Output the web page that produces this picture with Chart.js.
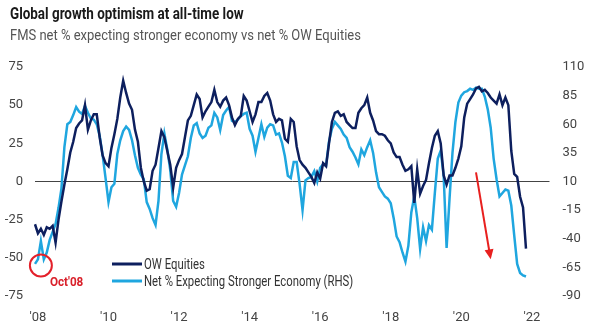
<!DOCTYPE html>
<html>
<head>
<meta charset="utf-8">
<script src="https://cdn.jsdelivr.net/npm/chart.js@4.4.1/dist/chart.umd.min.js"></script>
<style>
  html, body { margin: 0; padding: 0; background: #fff; }
  #wrap { position: relative; width: 590px; height: 332px; }
  #title { position: absolute; left: 10px; top: 4px; font: bold 16px Roboto, sans-serif; color: #1a1a1a; white-space: nowrap; transform: scaleX(0.84); transform-origin: 0 0; }
  #subtitle { position: absolute; left: 10px; top: 26px; font: 15px Roboto, sans-serif; color: #555; white-space: nowrap; transform: scaleX(0.865); transform-origin: 0 0; }
  canvas { position: absolute; left: 0; top: 0; }
</style>
</head>
<body>
<div id="wrap">
  <canvas id="myChart" width="590" height="332"></canvas>
  <div id="title">Global growth optimism at all-time low</div>
  <div id="subtitle">FMS net % expecting stronger economy vs net % OW Equities</div>
</div>
<script>
// monthly categories, Dec 2007 onwards (extra months at the end leave room on the right)
var startYear = 2007, startMonth = 12, monthCount = 176;
var months = [];
for (var k = 0; k < monthCount; k++) {
  var m = (startMonth - 1 + k) % 12 + 1;
  var yr = startYear + Math.floor((startMonth - 1 + k) / 12);
  months.push(yr + '-' + (m < 10 ? '0' + m : m));
}
var tickYears = ['2008', '2010', '2012', '2014', '2016', '2018', '2020', '2022'];
var leftTicks = [-75, -50, -25, 0, 25, 50, 75];
var rightTicks = [-90, -65, -40, -15, 10, 35, 60, 85, 110];

// net % OW equities (left axis)
var owEquities = [
  -28, -34, -31, -35, -30, -31, -29, -40, -25, -13, -2, 8, 19, 26, 35, 38, 40, 50, 34, 40,
  44, 44, 29, 17, 12, 10, 22, 31, 41, 55, 66, 58, 51, 47, 34, 26, 9, 0, -6, -5,
  7, 11, 22, 33, 29, 20, 11, -4, 9, 14, 18, 29, 40, 43, 50, 57, 54, 42, 46, 49,
  52, 60, 52, 49, 53, 55, 50, 42, 37, 41, 43, 56, 53, 46, 39, 44, 52, 52, 56, 58,
  53, 44, 39, 41, 40, 28, 26, 41, 39, 23, 14, 11, 9, 6, 3, -1, 6, 2, 12, 10,
  25, 39, 45, 46, 43, 44, 39, 37, 35, 35, 45, 48, 50, 55, 45, 40, 33, 31, 31, 30,
  27, 25, 19, 16, 16, 11, 7, 8, 10, -14, 8, -8, -3, 1, 12, 22, 30, 33, 25, 4,
  -2, 4, 4, 9, 15, 23, 42, 51, 54, 57, 61, 62, 59, 60, 58, 55, 53, 51, 57, 50,
  55, 50, 20, 5, 3, -10, -17, -44
];
// net % expecting stronger economy (right axis)
var strongerEconomy = [
  -62, -58, -42, -58, -52, -41, -34, -27, -13, 4, 40, 60, 62, 68, 75, 71, 69, 76, 70, 65,
  64, 60, 50, 33, 13, -8, 5, 8, 34, 46, 54, 58, 55, 46, 33, 22, 16, 12, -8, -14,
  -22, -28, -7, 34, 52, 38, 20, -7, -12, 0, 16, 24, 32, 48, 59, 61, 52, 48, 50, 57,
  59, 70, 66, 55, 68, 72, 75, 63, 62, 64, 67, 69, 70, 56, 50, 36, 48, 60, 49, 57,
  60, 59, 51, 52, 44, 32, 15, 13, 27, 27, 8, -15, 11, 13, 14, 19, 10, 22, 25, 24,
  45, 56, 62, 59, 56, 51, 48, 40, 36, 31, 25, 38, 33, 40, 46, 35, 18, 5, 1, -3,
  -5, -9, -22, -38, -43, -52, -60, -46, -17, -3, -22, -49, -30, -42, -28, -32, 0, 30, 37, 15,
  -48, -5, 35, 62, 79, 85, 88, 89, 91, 90, 92, 91, 91, 84, 73, 57, 30, 12, -3, 0,
  3, 2, -11, -37, -62, -70, -72, -73
];

// annotation anchors (category index, left-axis value)
var circleAt = { index: 2, value: -55 };
var arrowFrom = { index: 150, value: 6 };
var arrowTo = { index: 155, value: -51 };

var navy = '#0d1f5e';
var sky = '#1fa6df';
var font = 'Roboto, sans-serif';

var extras = {
  id: 'extras',
  afterDatasetsDraw: function(chart) {
    var c = chart.ctx, x = chart.scales.x, y = chart.scales.y;
    c.save();
    // Oct'08 circle
    c.strokeStyle = '#e3202a';
    c.lineWidth = 2;
    c.beginPath();
    c.arc(x.getPixelForValue(circleAt.index), y.getPixelForValue(circleAt.value), 11, 0, Math.PI * 2);
    c.stroke();
    c.fillStyle = '#d9202a';
    c.font = 'bold 13px ' + font;
    c.textBaseline = 'middle';
    c.save();
    c.translate(x.getPixelForValue(circleAt.index) + 9, y.getPixelForValue(circleAt.value) + 17);
    c.scale(0.9, 1);
    c.fillText("Oct'08", 0, 0);
    c.restore();
    // red arrow
    var x1 = x.getPixelForValue(arrowFrom.index), y1 = y.getPixelForValue(arrowFrom.value);
    var x2 = x.getPixelForValue(arrowTo.index), y2 = y.getPixelForValue(arrowTo.value);
    var ang = Math.atan2(y2 - y1, x2 - x1);
    c.strokeStyle = '#e8201f';
    c.lineWidth = 2;
    c.beginPath();
    c.moveTo(x1, y1);
    c.lineTo(x2 - 8 * Math.cos(ang), y2 - 8 * Math.sin(ang));
    c.stroke();
    c.fillStyle = '#e8201f';
    c.beginPath();
    c.moveTo(x2, y2);
    c.lineTo(x2 - 10 * Math.cos(ang) + 4.5 * Math.sin(ang), y2 - 10 * Math.sin(ang) - 4.5 * Math.cos(ang));
    c.lineTo(x2 - 10 * Math.cos(ang) - 4.5 * Math.sin(ang), y2 - 10 * Math.sin(ang) + 4.5 * Math.cos(ang));
    c.closePath();
    c.fill();
    // legend
    var items = [['OW Equities', navy], ['Net % Expecting Stronger Economy (RHS)', sky]];
    c.font = '14px ' + font;
    for (var i = 0; i < items.length; i++) {
      var ly = 264 + i * 17;
      c.strokeStyle = items[i][1];
      c.lineWidth = 3;
      c.beginPath();
      c.moveTo(112, ly);
      c.lineTo(142, ly);
      c.stroke();
      c.fillStyle = '#333';
      c.save();
      c.translate(144, ly + 1);
      c.scale(0.81, 1);
      c.fillText(items[i][0], 0, 0);
      c.restore();
    }
    c.restore();
  }
};

var ctx = document.getElementById('myChart');
var myChart = new Chart(ctx, {
  type: 'line',
  data: {
    labels: months,
    datasets: [
      {
        label: 'OW Equities',
        data: owEquities,
        yAxisID: 'y',
        borderColor: navy,
        borderWidth: 2.5,
        pointRadius: 0,
        fill: false,
        tension: 0
      },
      {
        label: 'Net % Expecting Stronger Economy (RHS)',
        data: strongerEconomy,
        yAxisID: 'y1',
        borderColor: sky,
        borderWidth: 2.5,
        pointRadius: 0,
        fill: false,
        tension: 0
      }
    ]
  },
  options: {
    responsive: false,
    animation: false,
    layout: { padding: { top: 67, left: 0, right: 0, bottom: 0 } },
    plugins: { legend: { display: false }, tooltip: { enabled: false } },
    scales: {
      x: {
        offset: false,
        grid: { display: false },
        border: { display: false },
        ticks: {
          autoSkip: false,
          maxRotation: 0,
          padding: 6,
          color: '#444',
          font: { family: font, size: 13 },
          callback: function(v, idx) {
            var lab = months[idx];
            if (lab.slice(5) === '01' && tickYears.indexOf(lab.slice(0, 4)) >= 0) return "'" + lab.slice(2, 4);
            return '';
          }
        },
        afterFit: function(s) { s.height = 36; }
      },
      y: {
        position: 'left',
        min: -75,
        max: 75,
        border: { display: false },
        grid: {
          drawTicks: false,
          color: function(c) { return c.tick && c.tick.value === 0 ? '#444' : 'rgba(0,0,0,0)'; },
          lineWidth: 1
        },
        ticks: { padding: 12, color: '#444', font: { family: font, size: 13 } },
        afterBuildTicks: function(s) { s.ticks = leftTicks.map(function(v) { return { value: v }; }); },
        afterFit: function(s) { s.width = 35; }
      },
      y1: {
        position: 'right',
        min: -90,
        max: 110,
        border: { display: false },
        grid: { display: false, drawTicks: false },
        ticks: { padding: 13, color: '#444', font: { family: font, size: 13 } },
        afterBuildTicks: function(s) { s.ticks = rightTicks.map(function(v) { return { value: v }; }); },
        afterFit: function(s) { s.width = 40.5; }
      }
    }
  },
  plugins: [extras]
});
</script>
</body>
</html>
